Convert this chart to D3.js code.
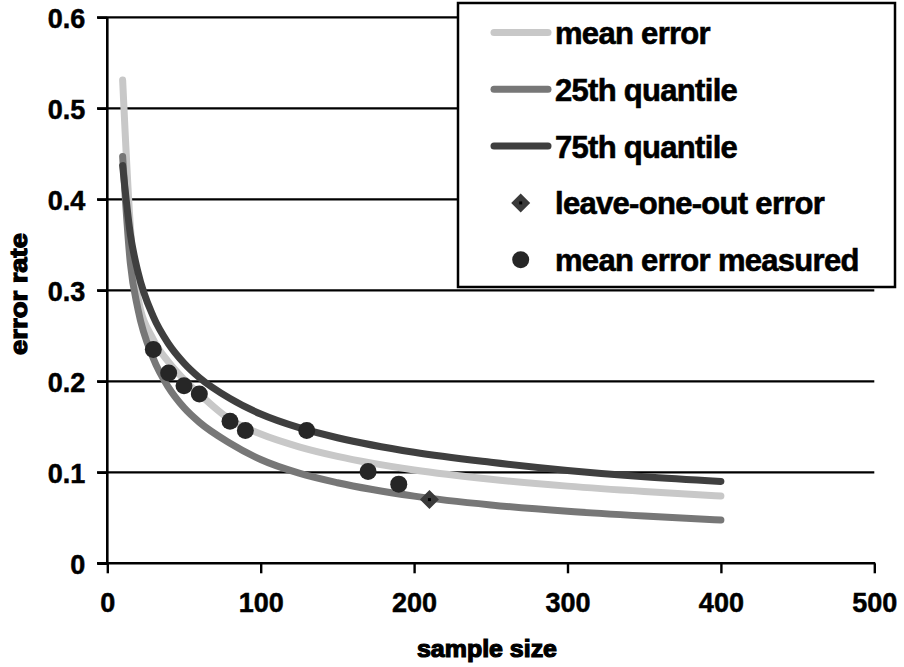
<!DOCTYPE html>
<html>
<head>
<meta charset="utf-8">
<script src="https://cdn.jsdelivr.net/npm/d3@7"></script>
<style>
body { margin: 0; background: #fff; }
svg text { font-family: 'Liberation Sans', Arial, sans-serif; font-weight: bold; fill: #000; }
</style>
</head>
<body>
<div id="chart"></div>
<script>
// values
const sampleSizes = [10, 15, 20, 30, 40, 50, 60, 80, 100, 125, 150, 200, 250, 300, 350, 400];
const meanError = [0.531, 0.371, 0.292, 0.246, 0.221, 0.202, 0.186, 0.158, 0.142, 0.128, 0.1175, 0.1026, 0.0924, 0.0848, 0.0789, 0.074];
const quantile25 = [0.447, 0.330, 0.279, 0.225, 0.193, 0.171, 0.155, 0.132, 0.114, 0.099, 0.0885, 0.0738, 0.0641, 0.0571, 0.0519, 0.0476];
const quantile75 = [0.437, 0.362, 0.320, 0.271, 0.241, 0.220, 0.204, 0.181, 0.164, 0.149, 0.138, 0.122, 0.111, 0.102, 0.095, 0.090];
const measuredN = [30, 40, 50, 60, 80, 90, 130, 170, 190];
const measuredError = [0.235, 0.209, 0.195, 0.186, 0.156, 0.146, 0.146, 0.101, 0.087];
const looN = [210];
const looError = [0.070];
const xTicks = [0, 100, 200, 300, 400, 500];
const yTicks = [0, 0.1, 0.2, 0.3, 0.4, 0.5, 0.6];
const legendLabels = ['mean error', '25th quantile', '75th quantile', 'leave-one-out error', 'mean error measured'];

const width = 904;
const height = 667;
const colors = {mean: '#c8c8c8', q25: '#777777', q75: '#3f3f3f', dot: '#262626', diamond: '#3a3a3a'};

const svg = d3.select('#chart')
    .append('svg')
    .attr('width', width)
    .attr('height', height);

const x = d3.scaleLinear().domain([0, 500]).range([107.3, 874.3]);
const y = d3.scaleLinear().domain([0, 0.6]).range([563.3, 17.3]);

const diamondPath = 'M0,-9.5L9.5,0L0,9.5L-9.5,0Z';

// gridlines
svg.append('g')
    .selectAll('line')
    .data(yTicks.filter(d => d > 0))
    .enter()
    .append('line')
    .attr('x1', 97)
    .attr('x2', x(500))
    .attr('y1', d => y(d))
    .attr('y2', d => y(d))
    .style('stroke', '#000')
    .style('stroke-width', 2.2);

// y axis
const yAxis = svg.append('g')
    .attr('transform', `translate(${x(0)},0)`)
    .call(d3.axisLeft(y).tickValues(yTicks).tickSize(10).tickPadding(12).tickFormat(d => String(d)));
// x axis
const xAxis = svg.append('g')
    .attr('transform', `translate(0,${y(0)})`)
    .call(d3.axisBottom(x).tickValues(xTicks).tickSize(10).tickPadding(20).tickFormat(d => String(d)));

[yAxis, xAxis].forEach(a => {
    a.select('.domain').remove();
    a.selectAll('.tick line').style('stroke', '#000').style('stroke-width', 2.4);
    a.selectAll('.tick text')
        .style('font-size', '27px')
        .style('font-family', "'Liberation Sans', Arial, sans-serif")
        .style('font-weight', 'bold')
        .style('fill', '#000')
        .style('stroke', '#000')
        .style('stroke-width', 0.5);
});
yAxis.selectAll('.tick text').attr('dy', '0.36em');

svg.append('line')
    .attr('x1', x(0)).attr('x2', x(0))
    .attr('y1', y(0.6)).attr('y2', y(0) + 1)
    .style('stroke', '#000').style('stroke-width', 2.6);
svg.append('line')
    .attr('x1', 97).attr('x2', x(500) + 1)
    .attr('y1', y(0)).attr('y2', y(0))
    .style('stroke', '#000').style('stroke-width', 2.6);

// axis titles
svg.append('text')
    .attr('x', 487)
    .attr('y', 657)
    .attr('text-anchor', 'middle')
    .attr('textLength', 140)
    .attr('lengthAdjust', 'spacingAndGlyphs')
    .style('font-size', '24px')
    .style('stroke', '#000')
    .style('stroke-width', 1.2)
    .text('sample size');

svg.append('text')
    .attr('transform', 'translate(27,294) rotate(-90)')
    .attr('text-anchor', 'middle')
    .attr('textLength', 122)
    .attr('lengthAdjust', 'spacingAndGlyphs')
    .style('font-size', '23px')
    .style('stroke', '#000')
    .style('stroke-width', 1.2)
    .text('error rate');

// curves
const line = d3.line()
    .x(d => x(d[0]))
    .y(d => y(d[1]))
    .curve(d3.curveMonotoneX);

const series = [
    {values: meanError, color: colors.mean},
    {values: quantile25, color: colors.q25},
    {values: quantile75, color: colors.q75}
];

svg.append('g')
    .selectAll('path')
    .data(series)
    .enter()
    .append('path')
    .attr('d', s => line(sampleSizes.map((n, i) => [n, s.values[i]])))
    .style('fill', 'none')
    .style('stroke', s => s.color)
    .style('stroke-width', 7)
    .style('stroke-linecap', 'round');

// measured points
svg.append('g')
    .selectAll('circle')
    .data(measuredN.map((n, i) => [n, measuredError[i]]))
    .enter()
    .append('circle')
    .attr('cx', d => x(d[0]))
    .attr('cy', d => y(d[1]))
    .attr('r', 8.5)
    .style('fill', colors.dot);

const loo = svg.append('g')
    .selectAll('g')
    .data(looN.map((n, i) => [n, looError[i]]))
    .enter()
    .append('g')
    .attr('transform', d => `translate(${x(d[0])},${y(d[1])})`);
loo.append('path').attr('d', diamondPath).style('fill', colors.diamond);
loo.append('rect').attr('x', -1.5).attr('y', -1.5).attr('width', 3).attr('height', 3).style('fill', '#000');

// legend
const legend = svg.append('g');
legend.append('rect')
    .attr('x', 458)
    .attr('y', 3)
    .attr('width', 437)
    .attr('height', 284)
    .style('fill', '#fff')
    .style('stroke', '#000')
    .style('stroke-width', 2.5);

const rowY = i => 32.5 + i * 56.8;
const legendColors = [colors.mean, colors.q25, colors.q75];

legendColors.forEach((c, i) => {
    legend.append('line')
        .attr('x1', 494).attr('x2', 548)
        .attr('y1', rowY(i)).attr('y2', rowY(i))
        .style('stroke', c)
        .style('stroke-width', 7)
        .style('stroke-linecap', 'round');
});

const legDiamond = legend.append('g').attr('transform', `translate(520.7,${rowY(3)})`);
legDiamond.append('path').attr('d', diamondPath).style('fill', colors.diamond);
legDiamond.append('rect').attr('x', -1.5).attr('y', -1.5).attr('width', 3).attr('height', 3).style('fill', '#000');

legend.append('circle')
    .attr('cx', 520.7)
    .attr('cy', rowY(4))
    .attr('r', 8.5)
    .style('fill', colors.dot);

legend.selectAll('text.leg')
    .data(legendLabels)
    .enter()
    .append('text')
    .attr('class', 'leg')
    .attr('x', 555)
    .attr('y', (d, i) => rowY(i) + 11.5)
    .style('font-size', '31px')
    .style('letter-spacing', '-0.7px')
    .style('stroke', '#000')
    .style('stroke-width', 0.6)
    .text(d => d);
</script>
</body>
</html>
